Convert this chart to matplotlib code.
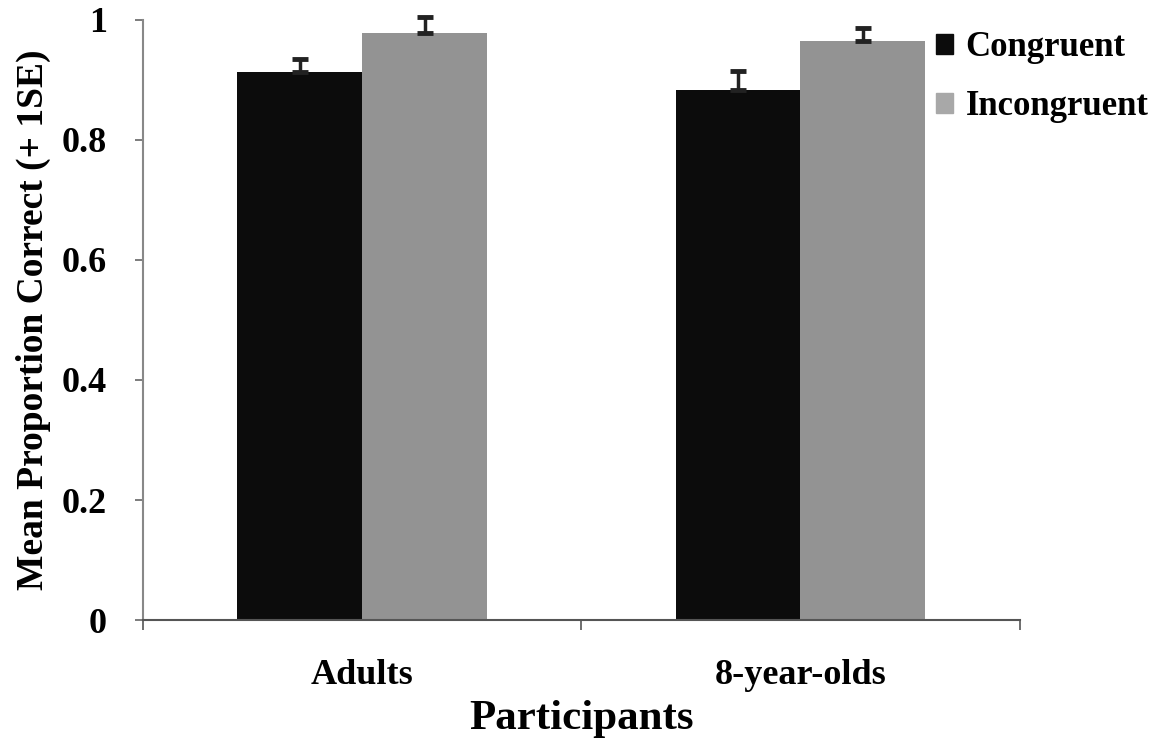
import matplotlib
matplotlib.use("Agg")
import matplotlib.pyplot as plt
import numpy as np
from matplotlib.patches import Patch

groups = ["Adults", "8-year-olds"]
congruent = [0.913, 0.883]
congruent_se = [0.022, 0.032]
incongruent = [0.978, 0.965]
incongruent_se = [0.027, 0.022]

plt.rcParams['font.family'] = ['Liberation Serif', 'DejaVu Serif']
plt.rcParams['font.weight'] = 'bold'

fig = plt.figure(figsize=(11.72, 7.39), dpi=100)
ax = fig.add_axes([0.122, 0.161, 0.748, 0.812])

x = np.arange(len(groups))
w = 0.285
black = '#0c0c0c'
gray = '#939393'

ax.bar(x - w / 2, congruent, w, color=black, clip_on=False)
ax.bar(x + w / 2, incongruent, w, color=gray, clip_on=False)
ax.errorbar(x - w / 2, congruent, yerr=[np.zeros(2), congruent_se], fmt='none',
            ecolor='#222222', elinewidth=2.5, capsize=6, capthick=3.5, clip_on=False)
ax.errorbar(x + w / 2, incongruent, yerr=[np.zeros(2), incongruent_se], fmt='none',
            ecolor='#222222', elinewidth=2.5, capsize=6, capthick=3.5, clip_on=False)

ax.set_xlim(-0.5, 1.5)
ax.set_ylim(0, 1)
ax.set_yticks([0, 0.2, 0.4, 0.6, 0.8, 1.0])
ax.set_yticklabels(["0", "0.2", "0.4", "0.6", "0.8", "1"], fontsize=26, fontweight='bold')
ax.set_xticks(x)
ax.set_xticklabels(groups, fontsize=26, fontweight='bold')
ax.tick_params(axis='x', which='major', length=0, pad=28)
ax.set_xticks([-0.5, 0.5, 1.5], minor=True)
ax.tick_params(axis='x', which='minor', length=7, width=1.2, color='#555555', direction='out')
ax.tick_params(axis='y', length=6, width=1.2, color='#666666', pad=20)

for s in ['top', 'right']:
    ax.spines[s].set_visible(False)
ax.spines['left'].set_color('#888888')
ax.spines['left'].set_linewidth(1.5)
ax.spines['bottom'].set_color('#555555')
ax.spines['bottom'].set_linewidth(1.5)

ax.set_xlabel("Participants", fontsize=31, fontweight='bold', labelpad=6)
ax.set_ylabel("Mean Proportion Correct (+ 1SE)", fontsize=27, fontweight='bold', labelpad=8)

handles = [Patch(color=black, label="Congruent"), Patch(color='#a8a8a8', label="Incongruent")]
fig.legend(handles=handles, loc='upper left', bbox_to_anchor=(0.772, 1.0), frameon=False,
           handlelength=0.5, handleheight=0.5, handletextpad=0.35,
           labelspacing=0.75, prop={'weight': 'bold', 'size': 25})

fig.savefig("out.png", dpi=100)
